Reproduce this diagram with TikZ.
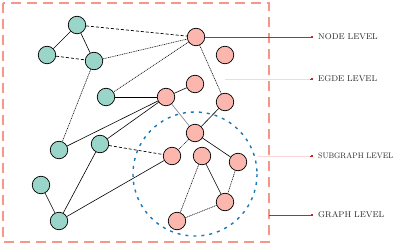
\documentclass[tikz,border=0pt]{standalone}
\usetikzlibrary{arrows.meta}
\definecolor{tealn}{HTML}{99D5C9}
\definecolor{pinkn}{HTML}{FBB7AE}
\definecolor{salmon}{HTML}{F4968A}
\definecolor{darkred}{HTML}{C0282D}
\definecolor{faintred}{HTML}{FAD6D6}
\definecolor{blued}{HTML}{1A78B4}
\begin{document}
\begin{tikzpicture}[x=1pt,y=-1pt,
  vtx/.style={circle,draw=black,line width=0.7pt,minimum size=17.5pt,inner sep=0pt},
  tn/.style={vtx,fill=tealn},
  pn/.style={vtx,fill=pinkn},
  ed/.style={line width=0.6pt},
  dd/.style={line width=0.6pt,dash pattern=on 1pt off 0.8pt},
  da/.style={line width=0.7pt,dash pattern=on 3pt off 2pt},
  lab/.style={font=\fontsize{8.4}{9}\selectfont,text=black!85,anchor=west,inner sep=0pt},
  tip/.style={-{Rectangle[length=2.5pt,width=2.5pt]}}
]
\useasboundingbox (0,0) rectangle (396,246);
% outer graph box
\draw[salmon,line width=1.6pt,dash pattern=on 10pt off 6pt] (3,3) rectangle (269,242);
% subgraph circle
\draw[blued,line width=1.4pt,dash pattern=on 3pt off 5pt] (195,174) circle (62);
% teal nodes
\node[tn] (t1) at (77,25) {};
\node[tn] (t2) at (47,55) {};
\node[tn] (t3) at (94,61) {};
\node[tn] (t4) at (106,97) {};
\node[tn] (t5) at (59,150) {};
\node[tn] (t6) at (100,144) {};
\node[tn] (t7) at (41,185) {};
\node[tn] (t8) at (59,221) {};
% pink nodes
\node[pn] (p1) at (196,37) {};
\node[pn] (p2) at (225,55) {};
\node[pn] (p3) at (195,84) {};
\node[pn] (p4) at (166,97) {};
\node[pn] (p5) at (225,102) {};
\node[pn] (p6) at (195,133) {};
\node[pn] (p7) at (172,156) {};
\node[pn] (p8) at (202,156) {};
\node[pn] (p9) at (238,162) {};
\node[pn] (p10) at (225,202) {};
\node[pn] (p11) at (177,221) {};
% edges
\draw[ed] (t1) -- (t2);
\draw[ed] (t1) -- (t3);
\draw[da] (t1) -- (p1);
\draw[da] (t2) -- (t3);
\draw[dd] (t3) -- (p1);
\draw[dd] (t3) -- (t5);
\draw[dd] (p1) -- (t4);
\draw[line width=0.9pt] (t4) -- (p4);
\draw[ed] (p4) -- (p3);
\draw[ed] (p4) -- (t5);
\draw[ed] (p4) -- (t6);
\draw[black!45,line width=0.7pt] (p4) -- (p6);
\draw[dd] (p1) -- (p5);
\draw[ed] (p5) -- (p6);
\draw[da] (t6) -- (p7);
\draw[ed] (t8) -- (p7);
\draw[ed] (t8) -- (t6);
\draw[ed] (t8) -- (t7);
\draw[dd] (p6) -- (p7);
\draw[ed] (p6) -- (p9);
\draw[ed] (p8) -- (p10);
\draw[dd] (p8) -- (p11);
\draw[dd] (p9) -- (p10);
\draw[dd] (p10) -- (p11);
% level labels
\node[lab] (lnode) at (318,37) {NODE LEVEL};
\node[lab] (ledge) at (318,79) {EGDE LEVEL};
\node[lab,font=\fontsize{7.9}{9}\selectfont,xscale=0.95] (lsub) at (318,156) {SUBGRAPH LEVEL};
\node[lab] (lgraph) at (318,215) {GRAPH LEVEL};
\coordinate (e0) at (225,79);
\coordinate (s0) at (258,156);
\coordinate (g0) at (269,215);
\draw[darkred,line width=0.8pt,tip] (p1.east) -- ([xshift=-5pt]lnode.west);
\draw[faintred,line width=1pt] (e0) -- ([xshift=-8pt]ledge.west);
\draw[darkred,line width=0.8pt,tip] ([xshift=-8pt]ledge.west) -- ([xshift=-5pt]ledge.west);
\draw[faintred,line width=1pt] (s0) -- ([xshift=-8pt]lsub.west);
\draw[darkred,line width=0.8pt,tip] ([xshift=-8pt]lsub.west) -- ([xshift=-5pt]lsub.west);
\draw[darkred,line width=0.8pt,tip] (g0) -- ([xshift=-5pt]lgraph.west);
\end{tikzpicture}
\end{document}
